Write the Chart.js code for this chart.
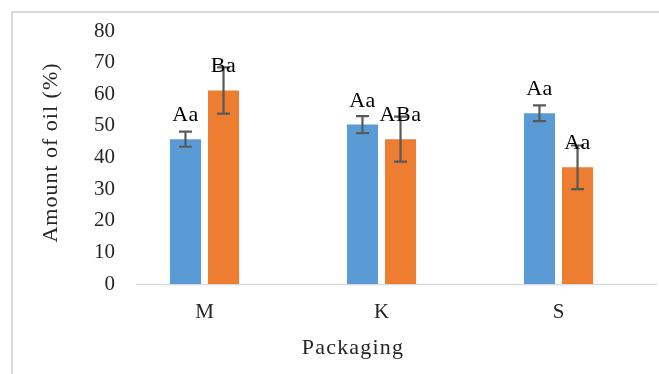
<!DOCTYPE html>
<html>
<head>
<meta charset="utf-8">
<script src="https://cdn.jsdelivr.net/npm/chart.js@4/dist/chart.umd.min.js"></script>
<style>
  html, body { margin: 0; padding: 0; background: #fff; }
  canvas { display: block; }
</style>
</head>
<body>
<canvas id="c" width="659" height="374"></canvas>
<script>
// Packaging types on the x axis
const categories = ["M", "K", "S"];

// Mean amount of oil (%) for the two series
const seriesBlue = [45.8, 50.4, 54.0];
const seriesOrange = [61.2, 45.8, 36.9];

// Standard deviations (symmetric error bars)
const errBlue = [2.4, 2.7, 2.5];
const errOrange = [7.3, 7.1, 6.9];

// Significance letters shown above the bars
const lettersBlue = ["Aa", "Aa", "Aa"];
const lettersOrange = ["Ba", "ABa", "Aa"];

// Y axis range and ticks
const yMin = 0, yMax = 80, yStep = 10;

const FONT = "'Liberation Serif', 'Times New Roman', serif";
const TEXT = "#262626";

// Outer light-grey frame (top and left edges visible)
const framePlugin = {
  id: "frame",
  beforeDraw(chart) {
    const ctx = chart.ctx;
    ctx.save();
    ctx.fillStyle = "#fff";
    ctx.fillRect(0, 0, chart.width, chart.height);
    ctx.strokeStyle = "#d9d9d9";
    ctx.lineWidth = 2;
    ctx.beginPath();
    ctx.moveTo(12, chart.height);
    ctx.lineTo(12, 12);
    ctx.lineTo(chart.width, 12);
    ctx.stroke();
    ctx.restore();
  }
};

// Horizontal category axis line at y = 0
const axisLinePlugin = {
  id: "axisLine",
  beforeDatasetsDraw(chart) {
    const ctx = chart.ctx;
    const y0 = Math.round(chart.scales.y.getPixelForValue(0)) + 0.5;
    ctx.save();
    ctx.strokeStyle = "#d9d9d9";
    ctx.lineWidth = 1.5;
    ctx.beginPath();
    ctx.moveTo(chart.chartArea.left + 20, y0);
    ctx.lineTo(chart.width - 2, y0);
    ctx.stroke();
    ctx.restore();
  }
};

// Error bars and letter labels over each bar
const errorLabelPlugin = {
  id: "errorLabels",
  afterDatasetsDraw(chart) {
    const ctx = chart.ctx;
    const yScale = chart.scales.y;
    const errs = [errBlue, errOrange];
    const letters = [lettersBlue, lettersOrange];
    ctx.save();
    chart.data.datasets.forEach((ds, i) => {
      const meta = chart.getDatasetMeta(i);
      meta.data.forEach((bar, j) => {
        const v = ds.data[j];
        const e = errs[i][j];
        const yTop = yScale.getPixelForValue(v + e);
        const yBot = yScale.getPixelForValue(v - e);
        const x = bar.x;
        ctx.strokeStyle = "#595959";
        ctx.lineWidth = 2.2;
        ctx.beginPath();
        ctx.moveTo(x, yTop); ctx.lineTo(x, yBot);
        ctx.moveTo(x - 6.5, yTop); ctx.lineTo(x + 6.5, yTop);
        ctx.moveTo(x - 6.5, yBot); ctx.lineTo(x + 6.5, yBot);
        ctx.stroke();
      });
    });
    chart.data.datasets.forEach((ds, i) => {
      const meta = chart.getDatasetMeta(i);
      meta.data.forEach((bar, j) => {
        ctx.fillStyle = "#000";
        ctx.font = "22px " + FONT;
        ctx.letterSpacing = "0.5px";
        ctx.textAlign = "center";
        ctx.textBaseline = "alphabetic";
        ctx.fillText(letters[i][j], bar.x, bar.y - 18);
      });
    });
    ctx.restore();
  }
};

// Axis titles
const titlePlugin = {
  id: "axisTitles",
  afterDraw(chart) {
    const ctx = chart.ctx;
    const a = chart.chartArea;
    ctx.save();
    ctx.fillStyle = TEXT;
    ctx.font = "22px " + FONT;
    ctx.letterSpacing = "1.2px";
    ctx.textAlign = "center";
    ctx.textBaseline = "middle";
    ctx.fillText("Packaging", a.left + 237, 348);
    ctx.letterSpacing = "1px";
    ctx.translate(51, (a.top + a.bottom) / 2 - 5);
    ctx.rotate(-Math.PI / 2);
    ctx.fillText("Amount of oil (%)", 0, 0);
    ctx.restore();
  }
};

new Chart(document.getElementById("c"), {
  type: "bar",
  data: {
    labels: categories,
    datasets: [
      { label: "Series 1", data: seriesBlue, backgroundColor: "#5b9bd5",
        categoryPercentage: 0.43, barPercentage: 0.816 },
      { label: "Series 2", data: seriesOrange, backgroundColor: "#ed7d31",
        categoryPercentage: 0.43, barPercentage: 0.816 }
    ]
  },
  options: {
    responsive: false,
    animation: false,
    devicePixelRatio: 1,
    layout: { padding: { left: 0, right: 12, top: 31, bottom: 0 } },
    plugins: { legend: { display: false }, tooltip: { enabled: false } },
    scales: {
      x: {
        grid: { display: false, drawTicks: false },
        border: { display: false },
        ticks: { color: TEXT, font: { family: FONT, size: 21 }, padding: 16 },
        afterFit(scale) { scale.height = 90; }
      },
      y: {
        min: yMin, max: yMax,
        grid: { display: false, drawTicks: false },
        border: { display: false },
        ticks: { stepSize: yStep, color: TEXT, font: { family: FONT, size: 21 }, padding: 1 },
        afterFit(scale) { scale.width = 116; }
      }
    }
  },
  plugins: [framePlugin, axisLinePlugin, errorLabelPlugin, titlePlugin]
});
</script>
</body>
</html>
